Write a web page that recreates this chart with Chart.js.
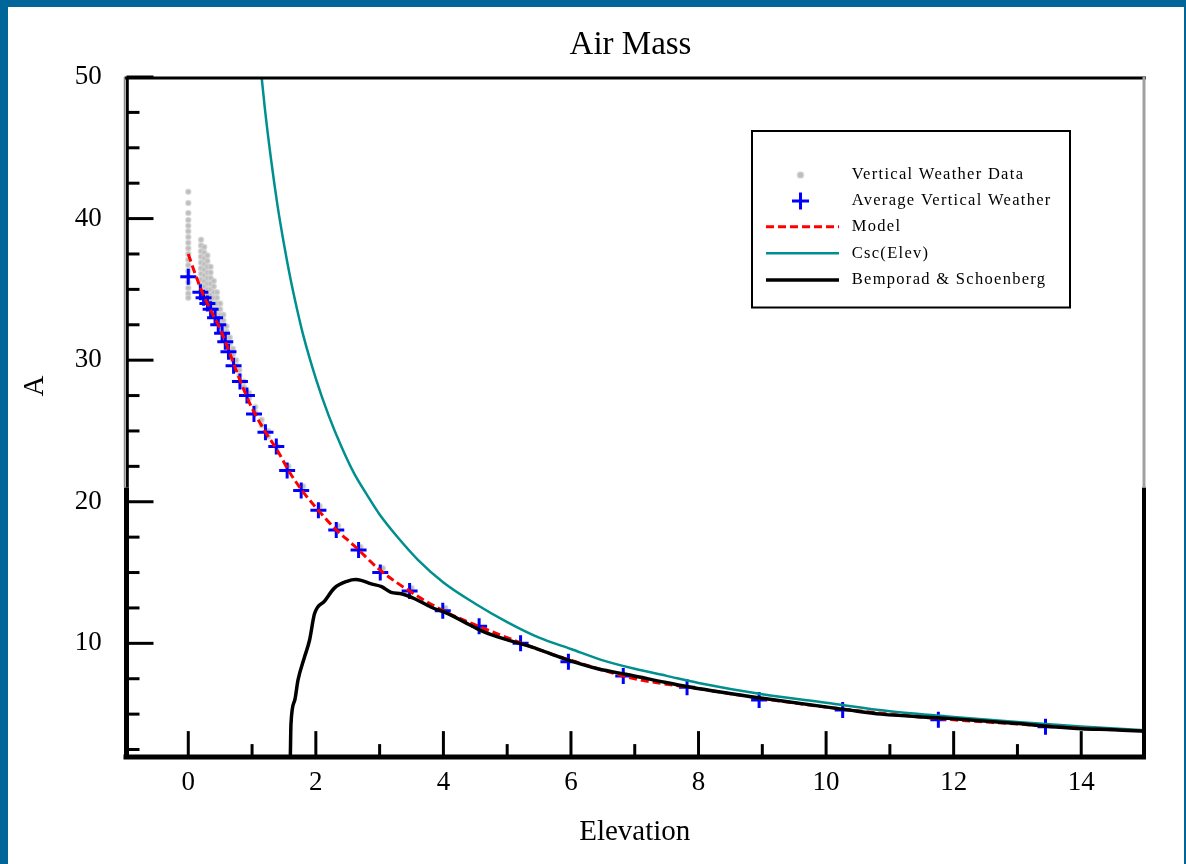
<!DOCTYPE html>
<html>
<head>
<meta charset="utf-8">
<title>Air Mass</title>
<script src="https://cdn.jsdelivr.net/npm/chart.js@4.4.1/dist/chart.umd.min.js"></script>
<style>
  html, body { margin: 0; padding: 0; }
  body { width: 1186px; height: 864px; background: #006699; position: relative; overflow: hidden; }
  #panel { position: absolute; left: 8px; top: 7px; width: 1176px; height: 857px; background: #fff; }
  canvas { display: block; }
</style>
</head>
<body>
<div id="panel"><canvas id="airmass" width="1176" height="857"></canvas></div>
<script>
const SERIF = "'Liberation Serif', 'Times New Roman', serif"

// Vertical weather data: one elevation per column, several air mass readings each
const vwdElev = [0, 0.2, 0.25, 0.3, 0.35, 0.4, 0.45, 0.5, 0.55, 0.6, 0.65, 0.7, 0.75, 0.8, 0.87, 0.95, 1.05, 1.15, 1.25, 1.4, 1.57, 1.8, 2.06, 2.35, 2.7, 3.05, 3.5, 4.03]
const vwdAirMass = [
  [41.9, 41.1, 40.4, 39.9, 39.5, 39.1, 38.7, 38.3, 37.9, 37.5, 37.1, 36.7, 36.3, 35.9, 35.5, 35.1, 34.7, 34.4],
  [38.5, 38.1, 37.7, 37.3, 36.9, 36.5, 36.1, 35.7, 35.3, 34.9],
  [38.0, 37.6, 37.2, 36.8, 36.4, 36.0, 35.6, 35.2, 34.8, 34.4],
  [37.4, 37.0, 36.6, 36.2, 35.8, 35.4, 35.0, 34.6, 34.2],
  [36.6, 36.2, 35.8, 35.4, 35.0, 34.6, 34.2, 33.8],
  [35.6, 35.2, 34.8, 34.4, 34.0, 33.6, 33.2],
  [34.8, 34.4, 34.0, 33.6, 33.2, 32.8],
  [34.0, 33.6, 33.2, 32.8, 32.4],
  [33.2, 32.8, 32.4, 32.0],
  [32.4, 32.0, 31.6, 31.2],
  [31.6, 31.2, 30.8],
  [30.8, 30.4, 30.0],
  [30.0, 29.6],
  [29.3, 28.9],
  [28.5, 28.1],
  [27.7, 27.3],
  [26.7, 26.3],
  [25.8, 25.4],
  [25.0, 24.6],
  [23.9],
  [22.5],
  [21.1],
  [19.7],
  [18.3],
  [16.8],
  [15.3],
  [13.9],
  [12.5]
]

const avgElev = [0, 0.19, 0.24, 0.3, 0.35, 0.42, 0.47, 0.53, 0.58, 0.63, 0.71, 0.81, 0.92, 1.03, 1.21, 1.38, 1.55, 1.77, 2.04, 2.32, 2.67, 3.01, 3.47, 3.99, 4.56, 5.21, 5.96, 6.82, 7.82, 8.95, 10.26, 11.76, 13.44]
const avgAirMass = [35.9, 34.8, 34.4, 34.0, 33.6, 33.0, 32.5, 31.9, 31.3, 30.6, 29.6, 28.5, 27.5, 26.2, 24.9, 23.9, 22.2, 20.8, 19.4, 18.0, 16.6, 15.0, 13.7, 12.3, 11.2, 10.0, 8.7, 7.7, 6.9, 6.0, 5.3, 4.6, 4.1]

const modelElev = [0, 0.1, 0.2, 0.3, 0.4, 0.5, 0.6, 0.7, 0.8, 0.9, 1.0, 1.2, 1.4, 1.6, 1.8, 2.0, 2.3, 2.6, 3.0, 3.5, 4.0, 4.5, 5.0, 5.5, 6.0, 7.0, 8.0, 9.0, 10.0, 11.0, 12.0, 13.0, 14.0, 14.5]
const modelAirMass = [37.5, 36.2, 35.0, 34.0, 33.1, 32.2, 31.1, 29.9, 28.7, 27.6, 26.6, 25.0, 23.6, 22.0, 20.7, 19.6, 18.1, 16.9, 15.2, 13.6, 12.3, 11.3, 10.4, 9.55, 8.8, 7.5, 6.8, 6.1, 5.5, 5.0, 4.6, 4.3, 4.0, 3.9]

const cscElev = [1.15, 1.2, 1.3, 1.4, 1.5, 1.6, 1.7, 1.8, 2.0, 2.2, 2.4, 2.6, 2.8, 3.0, 3.3, 3.6, 4.0, 4.5, 5.0, 5.5, 6.0, 6.5, 7.0, 7.5, 8.0, 9.0, 10.0, 11.0, 12.0, 13.0, 14.0, 15.0]
const cscAirMass = [50.0, 47.8, 44.1, 40.9, 38.2, 35.8, 33.7, 31.8, 28.7, 26.1, 23.9, 22.0, 20.5, 19.1, 17.4, 15.9, 14.3, 12.8, 11.5, 10.4, 9.6, 8.8, 8.2, 7.7, 7.2, 6.4, 5.8, 5.2, 4.8, 4.45, 4.13, 3.86]

const bsElev = [1.6, 1.61, 1.67, 1.72, 1.82, 1.9, 1.98, 2.14, 2.29, 2.5, 2.62, 2.71, 2.87, 3.03, 3.18, 3.34, 3.55, 3.81, 4.07, 4.33, 4.59, 4.85, 5.38, 5.9, 6.42, 6.94, 7.47, 7.88, 9.03, 10.34, 10.86, 11.91, 12.95, 14.0, 14.51, 15.0]
const bsAirMass = [2.0, 4.3, 6.0, 7.4, 9.0, 10.2, 12.1, 13.0, 13.9, 14.4, 14.5, 14.45, 14.2, 14.0, 13.6, 13.5, 13.15, 12.55, 12.1, 11.5, 10.9, 10.45, 9.75, 8.9, 8.2, 7.75, 7.25, 6.9, 6.1, 5.3, 5.0, 4.7, 4.35, 3.97, 3.9, 3.78]

const xMajorTicks = [0, 2, 4, 6, 8, 10, 12, 14]
const xMinorTicks = [1, 3, 5, 7, 9, 11, 13]
const yMajorTicks = [10, 20, 30, 40, 50]
const yMinorTicks = [2.5, 5, 7.5, 12.5, 15, 17.5, 22.5, 25, 27.5, 32.5, 35, 37.5, 42.5, 45, 47.5]

const points = (xs, ys) => xs.map((x, i) => ({ x, y: ys[i] }))
const vwdPoints = vwdElev.flatMap((e, i) => vwdAirMass[i].map(a => ({ x: e, y: a })))

// draws the inward tick marks, the plot frame, title, "A" label and the boxed legend
const decorations = {
  id: "decorations",
  afterDatasetsDraw(chart) {
    const { ctx, chartArea: area, scales } = chart
    const xs = scales.x, ys = scales.y
    const seg = (x1, y1, x2, y2, w, color = "#000") => {
      ctx.strokeStyle = color
      ctx.lineWidth = w
      ctx.beginPath()
      ctx.moveTo(x1, y1)
      ctx.lineTo(x2, y2)
      ctx.stroke()
    }
    ctx.save()
    ctx.lineCap = "butt"
    const left = area.left + 2
    const bottom = area.bottom + 0.5
    xMajorTicks.forEach(v => { const px = xs.getPixelForValue(v); seg(px, bottom, px, bottom - 26, 3) })
    xMinorTicks.forEach(v => { const px = xs.getPixelForValue(v); seg(px, bottom, px, bottom - 13, 3) })
    yMajorTicks.forEach(v => { const py = ys.getPixelForValue(v); seg(left, py, left + 27, py, 3) })
    yMinorTicks.forEach(v => { const py = ys.getPixelForValue(v); seg(left, py, left + 13, py, 3) })

    const split = ys.getPixelForValue(21)
    seg(left - 2, area.top + 1, area.right + 1, area.top + 1, 3)
    seg(left - 3, bottom, area.right + 1, bottom, 5)
    seg(left, split, left, bottom + 2, 5)
    seg(left - 2, area.top, left - 2, split, 1.5, "#8a8a8a")
    seg(left + 0.8, area.top, left + 0.8, split, 3)
    seg(area.right - 1, split, area.right - 1, bottom + 2, 4)
    seg(area.right - 1, area.top, area.right - 1, split, 3, "#a0a0a0")
    ctx.restore()
  },
  afterDraw(chart) {
    const { ctx } = chart
    ctx.save()
    ctx.fillStyle = "#000"
    ctx.textBaseline = "middle"

    ctx.textAlign = "center"
    ctx.font = `33px ${SERIF}`
    ctx.fillText("Air Mass", 622.5, 38)

    ctx.save()
    ctx.translate(27.5, 379)
    ctx.rotate(-Math.PI / 2)
    ctx.font = `29px ${SERIF}`
    ctx.fillText("A", 0, 0)
    ctx.restore()

    // legend
    const box = { left: 744, top: 124, right: 1062, bottom: 300.5 }
    ctx.lineWidth = 2
    ctx.strokeStyle = "#000"
    ctx.strokeRect(box.left, box.top, box.right - box.left, box.bottom - box.top)

    const rowY = [168, 194, 219.7, 246.3, 273]
    const symX = 792.5, lineX1 = 758, lineX2 = 831, textX = 843.7
    chart.data.datasets.forEach((ds, i) => {
      const y = rowY[i]
      if (ds.showLine) {
        ctx.setLineDash(ds.borderDash || [])
        ctx.strokeStyle = ds.borderColor
        ctx.lineWidth = ds.borderWidth
        ctx.beginPath()
        ctx.moveTo(lineX1, y)
        ctx.lineTo(lineX2, y)
        ctx.stroke()
        ctx.setLineDash([])
      } else {
        ctx.fillStyle = ds.backgroundColor
        ctx.strokeStyle = ds.borderColor
        ctx.lineWidth = ds.borderWidth
        Chart.helpers.drawPoint(ctx, {
          pointStyle: ds.pointStyle,
          radius: ds.pointStyle === "cross" ? ds.pointRadius + 0.5 : ds.pointRadius + 0.6,
          borderWidth: ds.borderWidth,
          rotation: 0
        }, symX, y)
      }
      ctx.fillStyle = "#000"
      ctx.textAlign = "left"
      ctx.font = `16.5px ${SERIF}`
      ctx.letterSpacing = "1.3px"
      ctx.fillText(ds.label, textX, y)
      ctx.letterSpacing = "0px"
    })
    ctx.restore()
  }
}

const tickFont = { family: SERIF, size: 27 }

new Chart(document.getElementById("airmass"), {
  type: "scatter",
  data: {
    datasets: [
      {
        label: "Vertical Weather Data",
        data: vwdPoints,
        pointStyle: "circle",
        pointRadius: 2.5,
        backgroundColor: "#bdbdbd",
        borderColor: "rgba(210,210,210,0.7)",
        borderWidth: 1.5,
        order: 5
      },
      {
        label: "Average Vertical Weather",
        data: points(avgElev, avgAirMass),
        pointStyle: "cross",
        pointRadius: 8,
        borderColor: "#0000ff",
        backgroundColor: "#0000ff",
        borderWidth: 3,
        order: 4
      },
      {
        label: "Model",
        data: points(modelElev, modelAirMass),
        showLine: true,
        cubicInterpolationMode: "monotone",
        pointRadius: 0,
        borderColor: "#ff0000",
        borderWidth: 3,
        borderDash: [8, 4],
        order: 2
      },
      {
        label: "Csc(Elev)",
        data: points(cscElev, cscAirMass),
        showLine: true,
        cubicInterpolationMode: "monotone",
        pointRadius: 0,
        borderColor: "#008f8f",
        borderWidth: 2.5,
        order: 3
      },
      {
        label: "Bemporad & Schoenberg",
        data: points(bsElev, bsAirMass),
        showLine: true,
        cubicInterpolationMode: "monotone",
        pointRadius: 0,
        borderColor: "#000000",
        borderWidth: 3.5,
        order: 1
      }
    ]
  },
  options: {
    responsive: false,
    animation: false,
    events: [],
    layout: { padding: { top: 70, right: 39, left: 0, bottom: 0 } },
    scales: {
      x: {
        type: "linear",
        min: -1,
        max: 15,
        afterBuildTicks: s => { s.ticks = xMajorTicks.map(v => ({ value: v })) },
        afterFit: s => { s.height = 107.4 },
        grid: { display: false, drawTicks: false, tickLength: 0 },
        border: { display: false },
        ticks: { font: tickFont, color: "#000", padding: 10.5, maxRotation: 0, autoSkip: false },
        title: {
          display: true,
          text: "Elevation",
          color: "#000",
          font: { family: SERIF, size: 29 },
          padding: { top: 0, bottom: 14.6 }
        }
      },
      y: {
        type: "linear",
        min: 2,
        max: 50,
        afterBuildTicks: s => { s.ticks = yMajorTicks.map(v => ({ value: v })) },
        afterFit: s => { s.width = 116.5 },
        grid: { display: false, drawTicks: false, tickLength: 0 },
        border: { display: false },
        ticks: { font: tickFont, color: "#000", padding: 22.8, autoSkip: false }
      }
    },
    plugins: {
      legend: { display: false },
      tooltip: { enabled: false },
      title: { display: false }
    }
  },
  plugins: [decorations]
})
</script>
</body>
</html>
